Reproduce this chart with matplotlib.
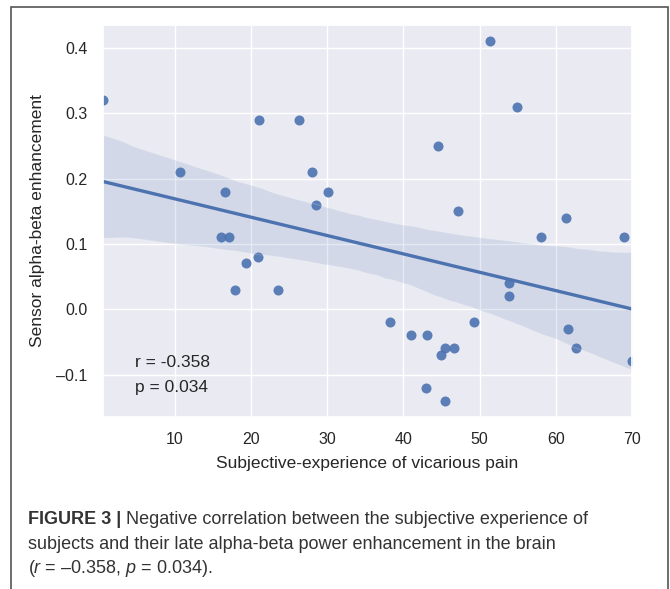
import numpy as np
import matplotlib
matplotlib.use("Agg")
import matplotlib.pyplot as plt
import seaborn as sns
from matplotlib.patches import Rectangle

# values
vicarious_pain = [0.57, 10.7, 16.6, 16.0, 17.1, 19.3, 20.9, 17.9, 21.0, 23.6,
                  26.3, 28.0, 28.5, 30.1, 38.2, 41.0, 43.1, 42.9, 44.5, 44.9,
                  45.5, 46.7, 45.5, 47.1, 49.3, 51.4, 53.8, 53.8, 54.9, 58.0,
                  61.35, 61.6, 62.6, 68.9, 70.0]
alpha_beta = [0.32, 0.21, 0.18, 0.11, 0.11, 0.07, 0.08, 0.03, 0.29, 0.03,
              0.29, 0.21, 0.16, 0.18, -0.02, -0.04, -0.04, -0.12, 0.25, -0.07,
              -0.06, -0.06, -0.14, 0.15, -0.02, 0.41, 0.04, 0.02, 0.31, 0.11,
              0.14, -0.03, -0.06, 0.11, -0.08]
x_ticks = [10, 20, 30, 40, 50, 60, 70]
y_ticks = [-0.1, 0.0, 0.1, 0.2, 0.3, 0.4]
stats_text = ["r = -0.358", "p = 0.034"]

sns.set_theme(style="darkgrid")
plt.rcParams['font.family'] = ['Liberation Sans', 'DejaVu Sans']
plt.rcParams['mathtext.fontset'] = 'custom'
plt.rcParams['mathtext.it'] = 'Liberation Sans:italic'
plt.rcParams['mathtext.rm'] = 'Liberation Sans'

W, H = 670, 589
fig = plt.figure(figsize=(W / 100, H / 100), dpi=100)
fig.patch.set_facecolor('white')

# frame around the figure panel
fig.patches.append(Rectangle((11 / W, -0.05), (668 - 11) / W, 1.05 - 7 / H,
                             transform=fig.transFigure, fill=False,
                             edgecolor='#555555', linewidth=1.2))

ax = fig.add_axes([103 / W, 1 - 417 / H, (632 - 103) / W, (417 - 25) / H])
ax.set_xlim(min(vicarious_pain), max(vicarious_pain))
sns.regplot(x=np.array(vicarious_pain), y=np.array(alpha_beta), ax=ax,
            truncate=False, seed=3, color='#4C72B0',
            scatter_kws=dict(s=52, alpha=0.9, linewidths=0),
            line_kws=dict(lw=2.4))
ax.set_xlim(min(vicarious_pain), max(vicarious_pain))
ax.set_ylim(-0.165, 0.435)
ax.set_xticks(x_ticks)
ax.set_yticks(y_ticks)
ax.set_yticklabels([f"{v:.1f}".replace('-', '\u2013') for v in y_ticks])
ax.tick_params(axis='both', labelsize=11.5, colors='#262626')
ax.tick_params(axis='y', pad=5)
ax.tick_params(axis='x', pad=5)
ax.set_xlabel("Subjective-experience of vicarious pain", fontsize=12.5,
              color='#262626', labelpad=6)
ax.set_ylabel("Sensor alpha-beta enhancement", fontsize=12.5,
              color='#262626', labelpad=8)

ax.text(0.06, 0.14, stats_text[0], transform=ax.transAxes, fontsize=12.5,
        color='#262626', va='center')
ax.text(0.06, 0.074, stats_text[1], transform=ax.transAxes, fontsize=12.5,
        color='#262626', va='center')

# caption
cap_color = '#333333'
cap_x = 28 / W
cap_size = 13
t0 = fig.text(cap_x, 1 - 524 / H, "FIGURE 3 |", fontsize=cap_size,
              fontweight='bold', color=cap_color, va='baseline')
fig.add_artist(plt.Annotation(
    " Negative correlation between the subjective experience of",
    xy=(1, 0), xycoords=t0, xytext=(0, 0), textcoords='offset points',
    fontsize=cap_size, color=cap_color, va='bottom', ha='left'))
fig.text(cap_x, 1 - 549 / H,
         "subjects and their late alpha-beta power enhancement in the brain",
         fontsize=cap_size, color=cap_color, va='baseline')
fig.text(cap_x, 1 - 573 / H,
         "($r$ = \u20130.358, $p$ = 0.034).",
         fontsize=cap_size, color=cap_color, va='baseline')

fig.savefig("out.png", dpi=100, facecolor='white')
